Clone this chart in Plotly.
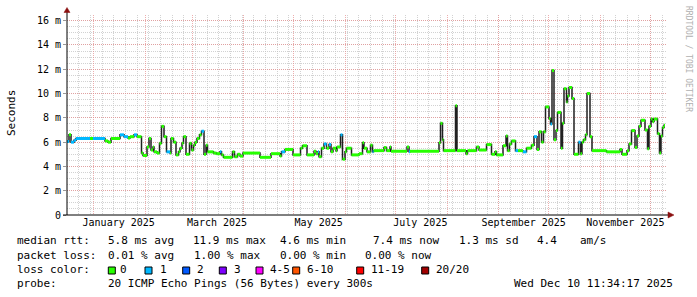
import plotly.graph_objects as go
import pandas as pd

# ---------------- data ----------------
# days since 2025-01-01 at which each median step starts
DAY = [-16.0, -14.8, -13.6, -11.8, -10.6, -2.2, -0.4, 3.8, 6.8, 8.6, 10.4, 15.8, 18.2, 20.6, 21.8, 24.2, 26.0,
       28.7, 29.6, 32.0, 33.2, 34.4, 35.6, 36.2, 38.0, 39.5, 40.7, 42.2, 43.7, 45.8, 46.4, 47.9, 49.4, 50.9,
       51.8, 53.0, 53.9, 55.4, 57.5, 58.7, 59.9, 60.8, 62.0, 63.5, 64.7, 66.2, 67.4, 68.3, 71.9, 73.7, 75.8,
       76.7, 77.9, 83.3, 84.5, 86.3,
       87.8, 89.6, 99.8, 106.4, 111.8, 112.7, 114.8, 119.6, 124.1, 125.3, 128.0, 132.2, 133.4, 134.6, 135.2,
       136.7, 138.2, 139.7, 141.2, 142.4, 143.6, 145.4, 146.0, 148.1, 149.3, 150.8, 151.7, 154.7, 159.2, 161.3,
       162.2, 164.0, 166.1, 167.3, 167.9, 174.2, 175.7, 177.8, 178.4, 188.0, 189.2, 189.8, 207.2, 208.1, 209.3,
       209.9, 217.1, 218.0, 223.4, 224.3,
       229.7, 231.2, 235.7, 238.7, 240.8, 241.7, 245.6, 247.4, 248.3, 249.5, 250.7, 253.1, 254.6, 257.6, 259.7,
       262.7, 264.2, 266.0, 267.2, 268.7, 269.9, 271.1, 273.2, 274.1, 275.0, 276.2, 277.4, 278.3, 280.4, 281.3,
       282.2, 283.7, 284.3, 285.2, 287.0, 288.2, 290.9, 292.1, 293.0, 293.9, 295.1, 296.0, 297.8, 299.0, 307.7,
       315.8, 317.0, 320.0, 321.2, 322.7, 324.8, 326.0, 327.2, 328.4, 330.8, 332.3, 333.2, 334.4, 335.3, 336.2,
       338.3, 339.5, 340.4, 341.3, 342.2]
DAY_END = 342.8

# median round trip time (ms)
MEDIAN_MS = [6.05, 6.6, 6.0, 6.15, 6.3, 6.3, 6.3, 6.3, 6.1, 6.0, 6.3, 6.6, 6.45, 6.35, 6.45, 6.6, 6.45,
             5.1, 4.9, 5.6, 6.3, 5.35, 5.6, 5.2, 5.1, 5.9, 7.3, 6.45, 5.2, 5.1, 6.3, 6.0, 4.95, 5.2,
             5.5, 5.9, 6.45, 5.0, 5.9, 5.35, 5.75, 6.0, 6.3, 6.6, 6.9, 5.0, 5.75, 5.2, 5.1, 5.05, 5.2,
             4.95, 4.75, 5.2, 4.8, 5.0,
             4.85, 5.1, 4.75, 5.05, 4.85, 5.2, 5.4, 4.95, 5.5, 5.7, 4.95, 5.25, 5.05, 5.2, 4.8,
             5.5, 5.85, 5.5, 5.8, 5.2, 5.5, 5.3, 5.6, 6.6, 4.6, 5.2, 5.5, 4.95, 5.05, 5.95,
             5.5, 5.2, 5.75, 5.2, 5.3, 5.55, 5.3, 5.6, 5.25, 5.6, 5.2, 5.25, 5.95, 7.55, 6.2,
             5.3, 9.0, 5.3, 5.05, 5.3,
             5.6, 5.35, 5.8, 5.0, 5.2, 4.95, 5.7, 6.5, 5.3, 5.85, 6.1, 5.3, 5.3, 5.2, 5.5,
             5.75, 6.45, 5.4, 6.85, 6.0, 6.85, 8.9, 7.95, 7.5, 11.9, 6.2, 6.95, 8.45, 5.5, 7.55,
             10.4, 9.3, 9.8, 10.5, 9.6, 5.0, 6.0, 5.05, 6.0, 6.2, 6.6, 10.0, 6.45, 5.3, 5.2,
             5.4, 5.0, 5.3, 5.85, 6.95, 5.55, 6.5, 7.3, 7.8, 7.0, 5.45, 7.3, 7.9, 7.7, 7.9,
             6.7, 5.1, 6.5, 7.2, 7.4]

# lost pings (of 20) per step
LOSS = [1, 0, 1, 1, 1, 0, 1, 1, 0, 0, 0, 1, 1, 0, 0, 1, 0, 0, 0, 0,
        0, 0, 0, 0, 0, 0, 0, 0, 1, 0, 0, 0, 0, 0, 0, 0, 0, 0, 0, 0,
        0, 0, 0, 0, 1, 0, 0, 0, 0, 0, 1, 0, 0, 0, 0, 0,
        0, 0, 0, 0, 0, 1, 0, 0, 0, 0, 0, 0, 0, 1, 0, 0, 1, 0, 1, 0,
        0, 0, 0, 1, 0, 0, 0, 0, 0, 0, 0, 0, 0, 1, 0, 0, 0, 0, 0, 0,
        1, 0, 0, 0, 0, 0, 0, 0, 0, 0,
        0, 0, 0, 0, 0, 0, 0, 0, 0, 0, 0, 1, 0, 1, 0, 0, 1, 0, 0, 0,
        0, 0, 0, 1, 0, 0, 0, 0, 0, 0, 0, 0, 0, 0, 0, 0, 1, 0, 0, 0,
        0, 0, 0, 0, 0, 0, 0, 0, 0, 0, 0, 0, 0, 0, 0, 0, 0, 0, 0, 0,
        0, 0, 0, 0, 0]

LOSS_LABELS = ["0", "1", "2", "3", "4-5", "6-10", "11-19", "20/20"]
LOSS_COLORS = ["#26ff00", "#00b8ff", "#0059ff", "#7e00ff", "#ff00ff", "#ff5500", "#ff0000", "#a10000"]

MONTH_LABELS = ["January 2025", "March 2025", "May 2025", "July 2025", "September 2025", "November 2025"]
MONTH_LABEL_DATES = ["2025-01-01", "2025-03-01", "2025-05-01", "2025-07-01", "2025-09-01", "2025-11-01"]
Y_TICKS = [0, 2, 4, 6, 8, 10, 12, 14, 16]
Y_TICK_TEXT = ["0", "2 m", "4 m", "6 m", "8 m", "10 m", "12 m", "14 m", "16 m"]

X_START, X_END = "2024-12-16", "2025-12-11"
Y_MAX = 16.47

# ---------------- geometry ----------------
W, H = 697, 297
ML, MR, MT, MB = 67, 30, 15, 82
PW, PH = W - ML - MR, H - MT - MB
FONT = "DejaVu Sans Mono"


def px(x):
    return (x - ML) / PW


def py(y):
    return (H - MB - y) / PH


base = pd.Timestamp("2025-01-01")
t = list(base + pd.to_timedelta(DAY, unit="D"))
t_end = base + pd.to_timedelta(DAY_END, unit="D")
t_next = t[1:] + [t_end]

fig = go.Figure()

# thin dark median line (step)
fig.add_trace(go.Scatter(x=t + [t_end], y=MEDIAN_MS + [MEDIAN_MS[-1]], mode="lines",
                         line=dict(color="#202020", width=1.5, shape="hv"),
                         hoverinfo="skip", showlegend=False))

# colored median by loss class
for cls, col in enumerate(LOSS_COLORS):
    xs, ys = [], []
    for i in range(len(t)):
        if LOSS[i] == cls:
            xs += [t[i], t_next[i], None]
            ys += [MEDIAN_MS[i], MEDIAN_MS[i], None]
    if xs:
        fig.add_trace(go.Scatter(x=xs, y=ys, mode="lines", line=dict(color=col, width=3),
                                 hoverinfo="skip", showlegend=False))

# invisible trace to carry the label axis
fig.add_trace(go.Scatter(x=[X_START], y=[0], xaxis="x2", mode="markers",
                         marker=dict(opacity=0), hoverinfo="skip", showlegend=False))

RED = "rgba(230,140,140,0.7)"
GRAY = "rgba(195,195,195,0.75)"
DASH = "1px,1px"

month_starts = pd.date_range("2025-01-01", "2025-12-01", freq="MS")
label_pos = [pd.Timestamp(d) + pd.Timedelta(days=15) for d in MONTH_LABEL_DATES]

fig.update_layout(
    width=W, height=H, margin=dict(l=ML, r=MR, t=MT, b=MB),
    paper_bgcolor="white", plot_bgcolor="white",
    font=dict(family=FONT, size=10, color="#000"),
    xaxis=dict(range=[X_START, X_END], type="date", tickmode="array", tickvals=list(month_starts),
               showticklabels=False, ticks="", showgrid=True, gridcolor=RED, griddash=DASH, gridwidth=1,
               zeroline=False, showline=False,
               minor=dict(tick0="2024-12-16", dtick=7 * 86400000, showgrid=True, gridcolor=GRAY,
                          griddash=DASH, gridwidth=1)),
    xaxis2=dict(range=[X_START, X_END], type="date", overlaying="x", anchor="y", side="bottom",
                tickmode="array", tickvals=label_pos, ticktext=MONTH_LABELS, showgrid=False,
                zeroline=False, showline=False, ticks="", tickfont=dict(family=FONT, size=10)),
    yaxis=dict(range=[0, Y_MAX], tickmode="array", tickvals=Y_TICKS, ticktext=Y_TICK_TEXT,
               showgrid=True, gridcolor=RED, griddash=DASH, gridwidth=1, zeroline=False, showline=False,
               ticks="outside", ticklen=3, tickcolor="#999", tickfont=dict(family=FONT, size=10),
               minor=dict(dtick=0.5, tick0=0, showgrid=True, gridcolor=GRAY, griddash=DASH, gridwidth=1)),
)

shapes = []
# axes with arrows
shapes.append(dict(type="line", xref="paper", yref="paper", x0=px(67), x1=px(67), y0=py(215), y1=py(11),
                   line=dict(color="black", width=1)))
shapes.append(dict(type="line", xref="paper", yref="paper", x0=px(63), x1=px(670), y0=py(215), y1=py(215),
                   line=dict(color="black", width=1)))
shapes.append(dict(type="path", xref="paper", yref="paper",
                   path=f"M {px(64)} {py(12.5)} L {px(67)} {py(7.5)} L {px(70)} {py(12.5)} Z",
                   fillcolor="#8b1010", line=dict(color="#8b1010", width=0.5)))
shapes.append(dict(type="path", xref="paper", yref="paper",
                   path=f"M {px(668)} {py(212)} L {px(674)} {py(215)} L {px(668)} {py(218)} Z",
                   fillcolor="#8b1010", line=dict(color="#8b1010", width=0.5)))

annotations = []


def txt(x, y, s, size=11, **kw):
    d = dict(xref="paper", yref="paper", x=px(x), y=py(y), text=s, showarrow=False,
             xanchor="left", yanchor="middle", borderpad=0,
             font=dict(family=FONT, size=size, color=kw.pop("color", "#000")))
    d.update(kw)
    annotations.append(d)


# legend / statistics
L1, L2, L3, L4 = 241, 255, 269, 283
for x, s in [(15.5, "median rtt:"), (106.5, "5.8 ms avg"), (192, "11.9 ms max"), (279.3, "4.6 ms min"),
             (372, "7.4 ms now"), (457.6, "1.3 ms sd"), (536, "4.4"), (578.6, "am/s")]:
    txt(x, L1, s)
for x, s in [(15.5, "packet loss:"), (106.5, "0.01 % avg"), (193.3, "1.00 % max"), (278.6, "0.00 % min"),
             (364.3, "0.00 % now")]:
    txt(x, L2, s)
txt(15.5, L3, "loss color:")
SQ_X = [108.3, 145, 182.7, 219.3, 256, 292.7, 356.7, 421.7]
LB_X = [119.3, 159.3, 196, 232.6, 269.3, 306, 370, 435.3]
for sx, lx, lab, col in zip(SQ_X, LB_X, LOSS_LABELS, LOSS_COLORS):
    shapes.append(dict(type="rect", xref="paper", yref="paper", x0=px(sx), x1=px(sx + 7),
                       y0=py(267), y1=py(274), fillcolor=col, line=dict(color="black", width=1)))
    txt(lx, L3, lab)
txt(15.5, L4, "probe:")
txt(106.5, L4, "20 ICMP Echo Pings (56 Bytes) every 300s")
txt(512.6, L4, "Wed Dec 10 11:34:17 2025")

# axis title and watermark
annotations.append(dict(xref="paper", yref="paper", x=px(11), y=py(113), text="Seconds", showarrow=False,
                        textangle=-90, xanchor="center", yanchor="middle",
                        font=dict(family=FONT, size=11, color="#000")))
annotations.append(dict(xref="paper", yref="paper", x=px(688), y=py(59), text="RRDTOOL / TOBI OETIKER",
                        showarrow=False, textangle=90, xanchor="center", yanchor="middle",
                        font=dict(family=FONT, size=8, color="#b0b0b0")))

fig.update_layout(shapes=shapes, annotations=annotations)
fig.write_html("out.html")
